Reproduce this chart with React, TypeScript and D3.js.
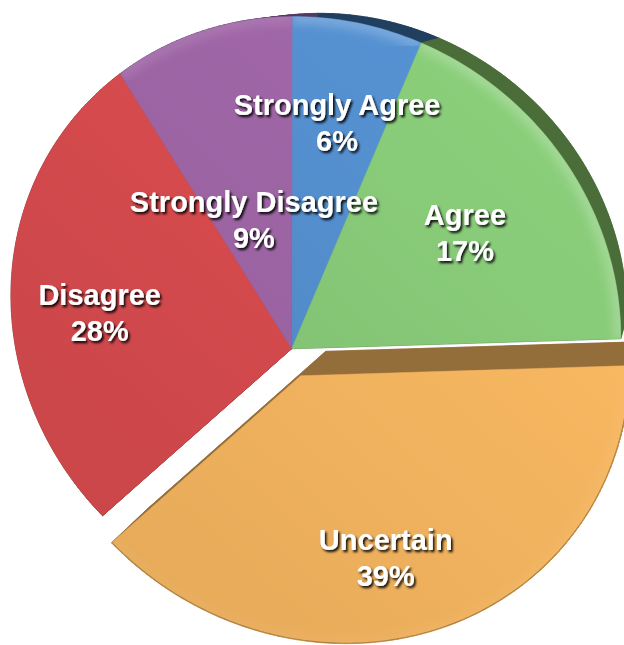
import React from 'react';
import * as d3 from 'd3';

// ---------- data ----------
const categories = ['Strongly Agree', 'Agree', 'Uncertain', 'Disagree', 'Strongly Disagree'];
const values = [6, 17, 39, 28, 9];
const percentLabels = ['6%', '17%', '39%', '28%', '9%'];

// ---------- styling / layout ----------
const topColors = ['#5089c6', '#81c173', '#edaf5c', '#cf484b', '#98619f'];
const wallColors = ['#223f5f', '#4a6d3a', '#936d3a', '#7a2a2c', '#563a5e'];
const rimGlow = [0.2, 0.2, 0.04, 0, 0.1];
const exploded = [false, false, true, false, false];
const labelRadius = [0.72, 0.66, 0.69, 0.67, 0.43];
const W = 624;
const H = 645;
// camera calibration (screen anchors of the pie centre and points on the rim)
const centerAnchor: [number, number] = [291, 345];
const rimAnchors: [number, number][] = [[290, 14], [424, 49], [621, 342], [102, 512], [120, 70]];
const leftAnchor: [number, number] = [14, 336];
const bottomAnchor: [number, number] = [292, 616];
const vanish: [number, number] = [724, -37];
const depthScale = 0.941;
const explodeOffset: [number, number] = [9, 27];

function solve(M: number[][], r: number[]) {
  const n = r.length;
  const A = M.map((row, i) => [...row, r[i]]);
  for (let c = 0; c < n; c++) {
    let p = c;
    for (let i = c + 1; i < n; i++) if (Math.abs(A[i][c]) > Math.abs(A[p][c])) p = i;
    [A[c], A[p]] = [A[p], A[c]];
    for (let i = 0; i < n; i++) {
      if (i === c) continue;
      const f = A[i][c] / A[c][c];
      for (let j = c; j <= n; j++) A[i][j] -= f * A[c][j];
    }
  }
  return A.map((row, i) => row[n] / row[i]);
}

function fitHomography(src: [number, number][], dst: [number, number][], w: number[]) {
  const N = Array.from({ length: 8 }, () => new Array(8).fill(0));
  const r = new Array(8).fill(0);
  src.forEach(([u, v], k) => {
    const [x, y] = dst[k];
    const rows = [
      { a: [u, v, 1, 0, 0, 0, -u * x, -v * x], b: x },
      { a: [0, 0, 0, u, v, 1, -u * y, -v * y], b: y },
    ];
    rows.forEach(({ a, b }) => {
      for (let i = 0; i < 8; i++) {
        r[i] += w[k] * a[i] * b;
        for (let j = 0; j < 8; j++) N[i][j] += w[k] * a[i] * a[j];
      }
    });
  });
  return solve(N, r);
}

export default function App() {
  const pie = d3.pie<number>().sort(null).value((d) => d);
  const arcs = pie(values);

  const boundaryAngles = [0, arcs[0].endAngle, arcs[1].endAngle, arcs[2].endAngle, arcs[3].endAngle];
  const src: [number, number][] = [
    [0, 0],
    ...boundaryAngles.map((a) => [Math.sin(a), -Math.cos(a)] as [number, number]),
    [-1, 0],
    [0, 1],
  ];
  const dst: [number, number][] = [centerAnchor, ...rimAnchors, leftAnchor, bottomAnchor];
  const p = fitHomography(src, dst, [3, 1, 1, 1, 1, 1, 1, 1]);

  const project = (u: number, v: number): [number, number] => {
    const den = p[6] * u + p[7] * v + 1;
    return [(p[0] * u + p[1] * v + p[2]) / den, (p[3] * u + p[4] * v + p[5]) / den];
  };
  const toBottom = ([x, y]: [number, number]): [number, number] => [
    vanish[0] + depthScale * (x - vanish[0]),
    vanish[1] + depthScale * (y - vanish[1]),
  ];

  const line = d3.line<[number, number]>();

  const slices = arcs.map((a, i) => {
    const mid = (a.startAngle + a.endAngle) / 2;
    const [sx, sy] = exploded[i] ? explodeOffset : [0, 0];
    const shift = ([x, y]: [number, number]): [number, number] => [x + sx, y + sy];
    const pts: [number, number][] = [[0, 0]];
    const steps = Math.max(8, Math.ceil(((a.endAngle - a.startAngle) * 180) / Math.PI));
    for (let s = 0; s <= steps; s++) {
      const t = a.startAngle + ((a.endAngle - a.startAngle) * s) / steps;
      pts.push([Math.sin(t), -Math.cos(t)]);
    }
    const top = pts.map(([u, v]) => shift(project(u, v)));
    const rim = top.slice(1);
    const bottom = top.map(toBottom);
    const quads: [number, number][][] = [];
    for (let k = 0; k < top.length; k++) {
      const k2 = (k + 1) % top.length;
      quads.push([top[k], top[k2], bottom[k2], bottom[k]]);
    }
    const lr = labelRadius[i];
    const lab = shift(project(lr * Math.sin(mid), -lr * Math.cos(mid)));
    return { i, top, rim, bottom, quads, lab };
  });

  const font = '"Liberation Sans", Arial, Helvetica, sans-serif';

  return (
    <svg width={W} height={H} style={{ position: 'absolute', left: 0, top: 0, display: 'block', background: '#fff' }}>
      <defs>
        {topColors.map((c, i) => (
          <linearGradient key={i} id={`g${i}`} gradientUnits="userSpaceOnUse" x1={560} y1={40} x2={40} y2={620}>
            <stop offset="0" stopColor={d3.color(c)!.brighter(0.22).formatHex()} />
            <stop offset="1" stopColor={d3.color(c)!.darker(0.12).formatHex()} />
          </linearGradient>
        ))}
        {slices.map((s) => (
          <clipPath key={`c${s.i}`} id={`c${s.i}`}>
            <path d={line(s.top)! + 'Z'} />
          </clipPath>
        ))}
        <filter id="blur" x="-10%" y="-10%" width="120%" height="120%">
          <feGaussianBlur stdDeviation="4" />
        </filter>
        <filter id="ts" x="-20%" y="-30%" width="140%" height="160%">
          <feDropShadow dx="1.8" dy="2.2" stdDeviation="1.3" floodColor="#000" floodOpacity="0.9" />
        </filter>
      </defs>
      <g>
        {slices.map((s) => (
          <g key={`w${s.i}`} fill={wallColors[s.i]} stroke={wallColors[s.i]} strokeWidth={0.6}>
            <path d={line(s.bottom)! + 'Z'} />
            {s.quads.map((q, k) => (
              <path key={k} d={line(q)! + 'Z'} />
            ))}
          </g>
        ))}
      </g>
      <g>
        {slices.map((s) => (
          <g key={`t${s.i}`}>
            <path d={line(s.top)! + 'Z'} fill={`url(#g${s.i})`} stroke={`url(#g${s.i})`} strokeWidth={0.5} />
            <g clipPath={`url(#c${s.i})`}>
              {rimGlow[s.i] > 0 && (
                <path d={line(s.rim)!} fill="none" stroke="#fff" strokeOpacity={rimGlow[s.i]} strokeWidth={16} filter="url(#blur)" />
              )}
              {exploded[s.i] && (
                <path d={line(s.rim)!} fill="none" stroke={wallColors[s.i]} strokeOpacity={0.75} strokeWidth={1.8} />
              )}
            </g>
          </g>
        ))}
      </g>
      <g fontFamily={font} fontWeight="bold" fontSize={29} fill="#fff" textAnchor="middle" filter="url(#ts)">
        {slices.map((s) => (
          <text key={`l${s.i}`} x={s.lab[0]} y={s.lab[1]}>
            <tspan x={s.lab[0]} dy={-8}>{categories[s.i]}</tspan>
            <tspan x={s.lab[0]} dy={36}>{percentLabels[s.i]}</tspan>
          </text>
        ))}
      </g>
    </svg>
  );
}
